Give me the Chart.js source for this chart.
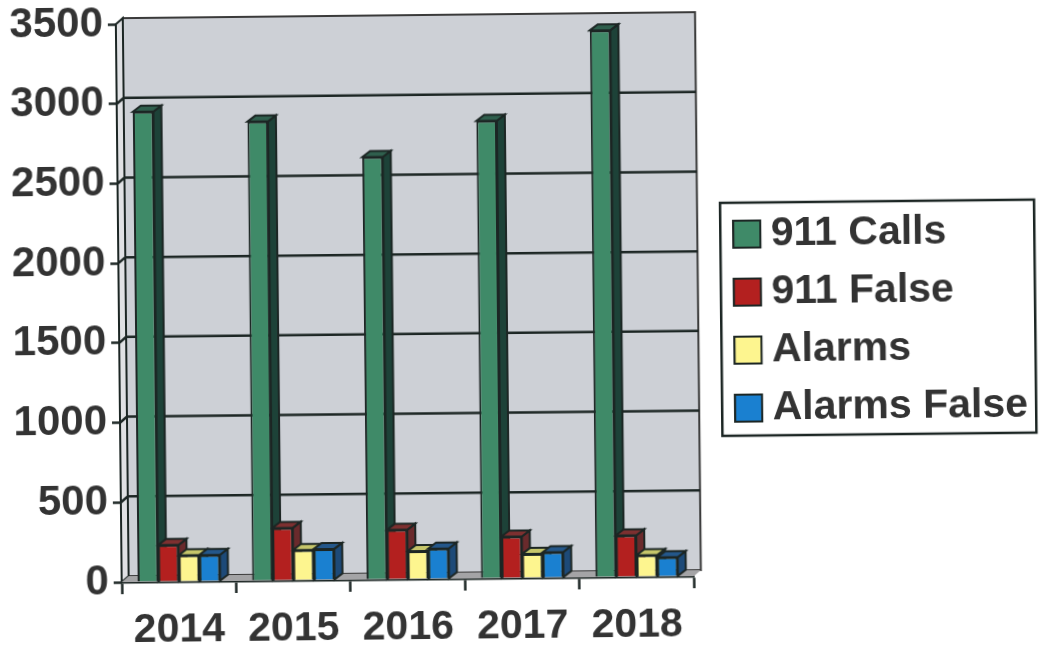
<!DOCTYPE html>
<html>
<head>
<meta charset="utf-8">
<style>
  html, body { margin: 0; padding: 0; background: #fff; overflow: hidden; }
  #box { width: 1040px; height: 645px; transform: rotate(-0.6deg); }
</style>
<script src="https://cdn.jsdelivr.net/npm/chart.js@4/dist/chart.umd.min.js"></script>
</head>
<body>
<div id="box"><canvas id="chart" width="1040" height="645"></canvas></div>
<script>
const years = ['2014', '2015', '2016', '2017', '2018'];
const calls911 = [2950, 2880, 2650, 2870, 3430];
const false911 = [230, 330, 310, 260, 260];
const alarms = [165, 190, 175, 150, 135];
const alarmsFalse = [165, 195, 190, 160, 120];
const yTicks = [0, 500, 1000, 1500, 2000, 2500, 3000, 3500];

const faceColors = ['#3f8a68', '#b3201f', '#fdf58f', '#1a80d0'];
const sideColors = ['#1d4238', '#6a2a2c', '#6f6c38', '#1d4a78'];
const topColors = ['#2f5f4d', '#7d3030', '#c6c66a', '#24578a'];
const inkColor = '#1c2624';
const textColor = '#333333';
const depthX = 7;
const depthY = 6;

function poly(ctx, pts, fill, stroke) {
  ctx.beginPath();
  pts.forEach((p, i) => i ? ctx.lineTo(p[0], p[1]) : ctx.moveTo(p[0], p[1]));
  ctx.closePath();
  if (fill) { ctx.fillStyle = fill; ctx.fill(); }
  if (stroke) { ctx.strokeStyle = stroke; ctx.lineWidth = 2; ctx.stroke(); }
}

// back wall, floor and gridlines of the fake 3d box
const wallPlugin = {
  id: 'wall',
  beforeDatasetsDraw(chart) {
    const ctx = chart.ctx;
    const { left, right, top, bottom } = chart.chartArea;
    const y = chart.scales.y;
    ctx.save();
    poly(ctx, [[left + depthX, top - depthY], [right + depthX, top - depthY], [right + depthX, bottom - depthY], [left + depthX, bottom - depthY]], '#cdd0d6', '#3a3a3a');
    poly(ctx, [[left, top], [left + depthX, top - depthY], [left + depthX, bottom - depthY], [left, bottom]], '#e0e1e4', inkColor);
    poly(ctx, [[left, bottom], [left + depthX, bottom - depthY], [right + depthX, bottom - depthY], [right, bottom]], '#a4a4a6', null);
    ctx.strokeStyle = inkColor;
    ctx.lineWidth = 2.5;
    yTicks.slice(1, -1).forEach(v => {
      const py = y.getPixelForValue(v);
      ctx.beginPath();
      ctx.moveTo(left, py);
      ctx.lineTo(left + depthX, py - depthY);
      ctx.lineTo(right + depthX, py - depthY);
      ctx.stroke();
    });
    // sides and tops of the bars, fronts are drawn by chart.js afterwards
    chart.data.datasets.forEach((ds, i) => {
      chart.getDatasetMeta(i).data.forEach(bar => {
        const l = bar.x - bar.width / 2;
        const r = bar.x + bar.width / 2;
        poly(ctx, [[r, bar.y], [r + depthX + 1, bar.y - depthY], [r + depthX + 1, bar.base - depthY], [r, bar.base]], sideColors[i], inkColor);
        poly(ctx, [[l, bar.y], [l + depthX + 1, bar.y - depthY], [r + depthX + 1, bar.y - depthY], [r, bar.y]], topColors[i], inkColor);
      });
    });
    ctx.restore();
  }
};

const legendBoxPlugin = {
  id: 'legendBox',
  // push the legend clear of the plot, layout padding cannot put a gap there
  afterLayout(chart) {
    const legend = chart.legend;
    legend.left += 26;
    legend.right += 26;
    legend.top -= 9;
    legend.bottom -= 9;
  },
  afterDraw(chart) {
    const ctx = chart.ctx;
    const hit = chart.legend.legendHitBoxes;
    const first = hit[0];
    const last = hit[hit.length - 1];
    ctx.save();
    ctx.strokeStyle = inkColor;
    ctx.lineWidth = 2.5;
    ctx.strokeRect(first.left - 13, first.top - 11, 314, last.top + last.height - first.top + 18);
    // the legend gap is font size / 2, too wide here, so its 17px box is widened by hand
    ctx.lineWidth = 2;
    hit.forEach((h, i) => {
      ctx.fillStyle = faceColors[i];
      ctx.fillRect(h.left, h.top + (h.height - 27) / 2, 27, 27);
      ctx.strokeRect(h.left, h.top + (h.height - 27) / 2, 27, 27);
    });
    ctx.restore();
  }
};

function bars(label, values, i) {
  return {
    label: label,
    data: values,
    backgroundColor: faceColors[i],
    borderColor: inkColor,
    borderWidth: 2,
    categoryPercentage: 0.72,
    barPercentage: 1
  };
}

new Chart(document.getElementById('chart'), {
  type: 'bar',
  data: {
    labels: years,
    datasets: [
      bars('911 Calls', calls911, 0),
      bars('911 False', false911, 1),
      bars('Alarms', alarms, 2),
      bars('Alarms False', alarmsFalse, 3)
    ]
  },
  options: {
    responsive: false,
    animation: false,
    layout: { autoPadding: false, padding: { top: 20, right: 29, bottom: 0, left: 0 } },
    scales: {
      x: {
        afterFit(scale) { scale.height = 67; },
        border: { color: inkColor, width: 2.5 },
        grid: { drawOnChartArea: false, drawTicks: true, tickLength: 12, tickColor: inkColor, tickWidth: 2.5 },
        ticks: { color: textColor, padding: 12, maxRotation: 0, font: { family: 'Liberation Sans', size: 41, weight: 'bold' } }
      },
      y: {
        min: 0,
        max: 3500,
        afterFit(scale) {
          scale.width = 119;
          // chart.js keeps half a label of room above the top tick otherwise
          scale.paddingTop = 0;
          scale.paddingBottom = 0;
        },
        afterBuildTicks(scale) { scale.ticks = yTicks.map(v => ({ value: v })); },
        border: { color: inkColor, width: 2.5 },
        grid: { drawOnChartArea: false, drawTicks: true, tickLength: 8, tickColor: inkColor, tickWidth: 2.5 },
        ticks: {
          color: textColor,
          padding: 5,
          font: { family: 'Liberation Sans', size: 42, weight: 'bold' },
          callback: v => String(v)
        }
      }
    },
    plugins: {
      title: { display: false },
      tooltip: { enabled: false },
      legend: {
        position: 'right',
        maxWidth: 340,
        labels: {
          color: textColor,
          boxWidth: 17,
          boxHeight: 27,
          padding: 17,
          font: { family: 'Liberation Sans', size: 41, weight: 'bold' }
        }
      }
    }
  },
  plugins: [wallPlugin, legendBoxPlugin]
});
</script>
</body>
</html>
